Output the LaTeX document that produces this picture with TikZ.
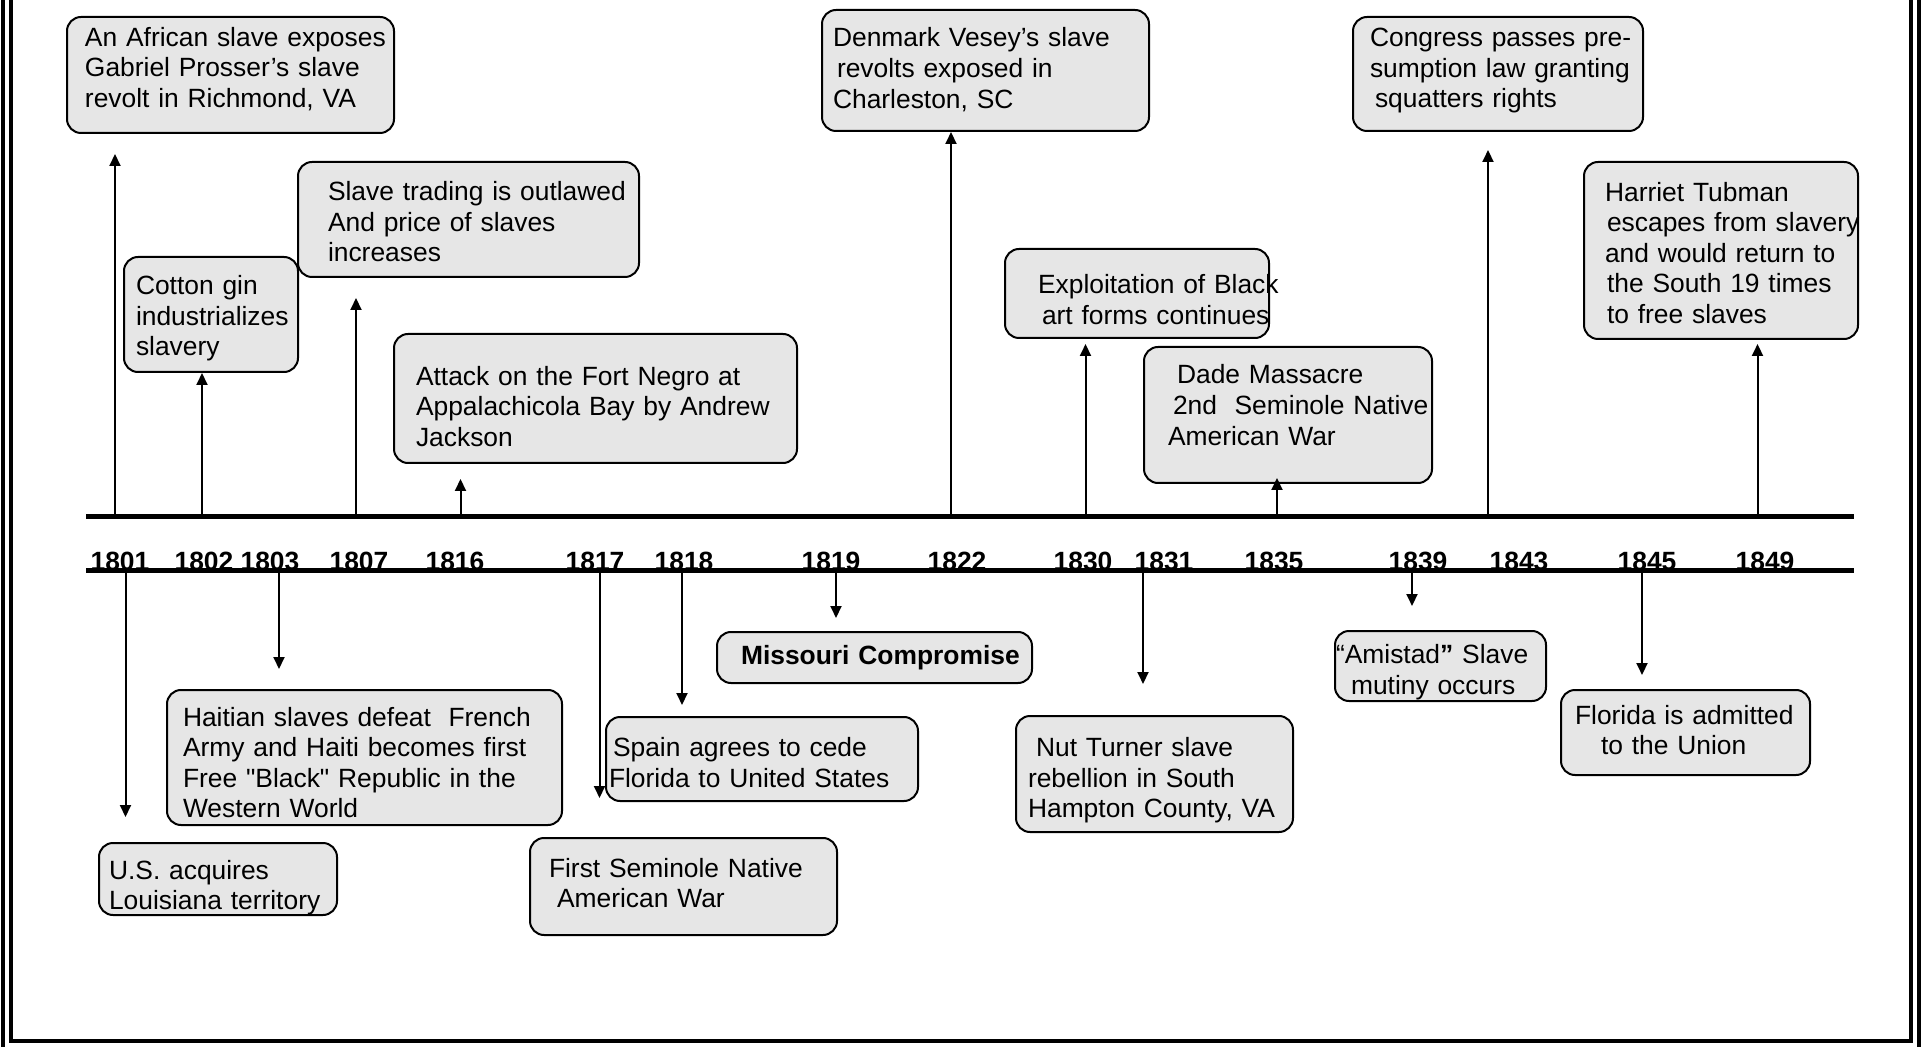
\documentclass[tikz,border=0pt]{standalone}
\usepackage{fontspec}
\setmainfont{Liberation Sans}[Ligatures=TeXOff]
\usetikzlibrary{arrows.meta}
\definecolor{boxgray}{RGB}{230,230,230}
\newcommand\evfont{\fontsize{13.2pt}{15.3pt}\selectfont}
\tikzset{
    %Define standard arrow tip
    >={Triangle[length=6pt,width=5.5pt]},
}

\begin{document}
\begin{tikzpicture}[x=0.5pt, y=-0.5pt,
    eventbox/.style n args={5}{draw, line width=1pt, rounded corners=7pt,
        fill=boxgray, font=\evfont, align=left,
        inner xsep=0pt, inner ysep=2pt,
        text width=#1, minimum height=#2,
        text height=#4, text depth=#5,
        execute at begin node={\leftskip=#3\relax
            \rightskip=0pt plus 1fil minus 200pt\relax}},
    yearlbl/.style = {font=\evfont\bfseries, anchor=base, inner sep=0pt},
    evarrow/.style = {->, line width=1pt},
    timeline/.style = {line width=2.5pt},
    pageframe/.style = {line width=2pt},
  ]
  \useasboundingbox (0,0) rectangle (1921,1047);

  % page border
  \draw[pageframe] (3,0) -- (3,1047);
  \draw[pageframe] (1919,0) -- (1919,1047);
  \draw[pageframe] (11,0) -- (11,1041) -- (1911,1041) -- (1911,0);

  % the two rails
  \draw[timeline] (86,516.5) -- (1854,516.5);
  \draw[timeline] (86,570.5) -- (1854,570.5);

  \node[yearlbl] (y1801) at (120,570) {1801};
  \node[yearlbl] (y1802) at (204,570) {1802};
  \node[yearlbl] (y1803) at (270,570) {1803};
  \node[yearlbl] (y1807) at (359,570) {1807};
  \node[yearlbl] (y1816) at (455,570) {1816};
  \node[yearlbl] (y1817) at (595,570) {1817};
  \node[yearlbl] (y1818) at (684,570) {1818};
  \node[yearlbl] (y1819) at (831,570) {1819};
  \node[yearlbl] (y1822) at (957,570) {1822};
  \node[yearlbl] (y1830) at (1083,570) {1830};
  \node[yearlbl] (y1831) at (1164,570) {1831};
  \node[yearlbl] (y1835) at (1274,570) {1835};
  \node[yearlbl] (y1839) at (1418,570) {1839};
  \node[yearlbl] (y1843) at (1519,570) {1843};
  \node[yearlbl] (y1845) at (1647,570) {1845};
  \node[yearlbl] (y1849) at (1765,570) {1849};

  % events above the line
  \node[eventbox={163.5pt}{58pt}{9pt}{7.5pt}{36.1pt}] (african) at (230.5,75)
    {An African slave exposes\\Gabriel Prosser’s slave\\revolt in Richmond, VA};
  \node[eventbox={87pt}{57.5pt}{6pt}{11.8pt}{31.8pt}] (cotton) at (211,314.5)
    {Cotton gin\\industrializes\\slavery};
  \node[eventbox={170.5pt}{57.5pt}{15pt}{12.4pt}{31.2pt}] (trading) at (468.5,219.5)
    {Slave trading is outlawed\\And price of slaves\\increases};
  \node[eventbox={201.5pt}{64.5pt}{11pt}{15.2pt}{28.4pt}] (fortnegro) at (595.5,398.5)
    {Attack on the Fort Negro at\\Appalachicola Bay by Andrew\\Jackson};
  \node[eventbox={163.5pt}{60.5pt}{5.5pt}{10pt}{33.6pt}] (vesey) at (985.5,70.5)
    {Denmark Vesey’s slave\\\hspace*{2pt}revolts exposed in\\Charleston, SC};
  \node[eventbox={132pt}{44.5pt}{16.5pt}{14.2pt}{14.1pt}] (artforms) at (1137,293.5)
    {Exploitation of Black\\\hspace*{2pt}art forms continues};
  \node[eventbox={144pt}{68pt}{12pt}{6.3pt}{37.3pt}] (dade) at (1288,415)
    {\hspace*{4.5pt}Dade Massacre\\\hspace*{2.5pt}2nd\ \ Seminole Native\\American War};
  \node[eventbox={145pt}{57pt}{8.5pt}{8.2pt}{35.4pt}] (congress) at (1498,74)
    {Congress passes pre-\\sumption law granting\\\hspace*{2.5pt}squatters rights};
  \node[eventbox={137pt}{88.5pt}{10.5pt}{12.4pt}{61.8pt}] (tubman) at (1721,250.5)
    {Harriet Tubman\\\hspace*{1pt}escapes from slavery\\and would return to\\\hspace*{1pt}the South 19 times\\\hspace*{1pt}to free slaves};

  % events below the line
  \node[eventbox={119pt}{36pt}{5pt}{14.3pt}{14pt}] (louisiana) at (218,879)
    {U.S. acquires\\Louisiana territory};
  \node[eventbox={197.5pt}{67.5pt}{8pt}{13.7pt}{45.2pt}] (haiti) at (364.5,757.5)
    {Haitian slaves defeat\ \ French\\Army and Haiti becomes first\\Free "Black" Republic in the\\Western World};
  \node[eventbox={153.5pt}{48.5pt}{9.5pt}{9.4pt}{18.9pt}] (seminole) at (683.5,886.5)
    {First Seminole Native\\\hspace*{4pt}American War};
  \node[eventbox={156pt}{42pt}{1.5pt}{13pt}{15.3pt}] (spain) at (762,759)
    {\hspace*{2pt}Spain agrees to cede\\Florida to United States};
  \node[eventbox={157.5pt}{25.5pt}{12pt}{10pt}{3pt}, font=\evfont\bfseries] (missouri) at (874.5,657.5)
    {Missouri Compromise};
  \node[eventbox={138.5pt}{58pt}{6pt}{13pt}{30.6pt}] (turner) at (1154.5,774)
    {\hspace*{4pt}Nut Turner slave\\rebellion in South\\Hampton County, VA};
  \node[eventbox={105.5pt}{35pt}{0.5pt}{13pt}{15.3pt}] (amistad) at (1440.5,666)
    {“Amistad\textbf{”} Slave\\\hspace*{7.5pt}mutiny occurs};
  \node[eventbox={124.5pt}{42.5pt}{7pt}{10pt}{18.3pt}] (florida) at (1685.5,732.5)
    {Florida is admitted\\\hspace*{13pt}to the Union};

  \coordinate (a1801) at (115,516);
  \coordinate (a1802) at (202,516);
  \coordinate (a1807) at (356,516);
  \coordinate (a1816) at (460.5,516);
  \coordinate (a1822) at (951,516);
  \coordinate (a1830) at (1085.5,516);
  \coordinate (a1835) at (1277,516);
  \coordinate (a1843) at (1488,516);
  \coordinate (a1849) at (1757.5,516);
  \coordinate (b1801) at (125.5,571);
  \coordinate (b1803) at (279,571);
  \coordinate (b1817) at (599.5,571);
  \coordinate (b1818) at (682,571);
  \coordinate (b1819) at (836,571);
  \coordinate (b1831) at (1143,571);
  \coordinate (b1839) at (1412,571);
  \coordinate (b1845) at (1642,571);

  \draw[evarrow, shorten >=10pt] (a1801) -- (a1801 |- african.south);
  \draw[evarrow] (a1802) -- (a1802 |- cotton.south);
  \draw[evarrow, shorten >=10pt] (a1807) -- (a1807 |- trading.south);
  \draw[evarrow, shorten >=7.5pt] (a1816) -- (a1816 |- fortnegro.south);
  \draw[evarrow] (a1822) -- (a1822 |- vesey.south);
  \draw[evarrow, shorten >=2.5pt] (a1830) -- (a1830 |- artforms.south);
  \draw[evarrow, shorten >=-3pt] (a1835) -- (a1835 |- dade.south);
  \draw[evarrow, shorten >=9pt] (a1843) -- (a1843 |- congress.south);
  \draw[evarrow, shorten >=2pt] (a1849) -- (a1849 |- tubman.south);

  \draw[evarrow, shorten >=12.5pt] (b1801) -- (b1801 |- louisiana.north);
  \draw[evarrow, shorten >=10pt] (b1803) -- (b1803 |- haiti.north);
  \draw[evarrow, shorten >=19.5pt] (b1817) -- (b1817 |- seminole.north);
  \draw[evarrow, shorten >=5.5pt] (b1818) -- (b1818 |- spain.north);
  \draw[evarrow, shorten >=6.5pt] (b1819) -- (b1819 |- missouri.north);
  \draw[evarrow, shorten >=15.5pt] (b1831) -- (b1831 |- turner.north);
  \draw[evarrow, shorten >=12pt] (b1839) -- (b1839 |- amistad.north);
  \draw[evarrow, shorten >=7pt] (b1845) -- (b1845 |- florida.north);

\end{tikzpicture}
\end{document}
